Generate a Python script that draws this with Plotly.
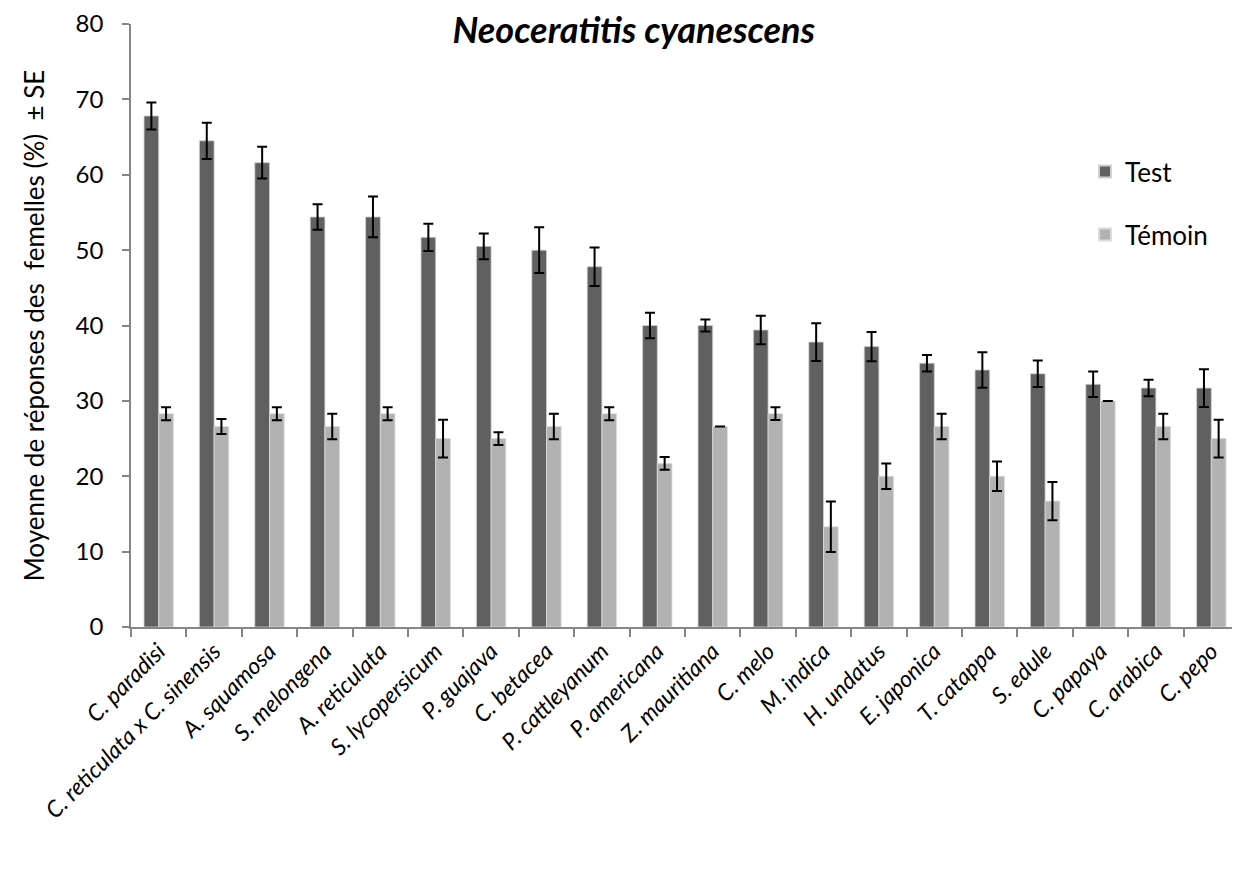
import plotly.graph_objects as go

categories = ["C. paradisi", "C. reticulata x C. sinensis", "A. squamosa", "S. melongena",
              "A. reticulata", "S. lycopersicum", "P. guajava", "C. betacea", "P. cattleyanum",
              "P. americana", "Z. mauritiana", "C. melo", "M. indica", "H. undatus",
              "E. japonica", "T. catappa", "S. edule", "C. papaya", "C. arabica", "C. pepo"]
test_values = [67.8, 64.5, 61.6, 54.4, 54.4, 51.7, 50.5, 50.0, 47.8, 40.0,
               40.0, 39.4, 37.8, 37.2, 35.0, 34.1, 33.6, 32.2, 31.7, 31.7]
test_se = [1.8, 2.4, 2.1, 1.7, 2.7, 1.8, 1.7, 3.05, 2.55, 1.7,
           0.8, 1.9, 2.5, 1.95, 1.1, 2.35, 1.75, 1.7, 1.1, 2.5]
temoin_values = [28.3, 26.6, 28.3, 26.6, 28.3, 25.0, 25.0, 26.6, 28.3, 21.7,
                 26.6, 28.3, 13.3, 20.0, 26.6, 20.0, 16.7, 30.0, 26.6, 25.0]
temoin_se = [0.86, 1.0, 0.86, 1.7, 0.86, 2.5, 0.84, 1.7, 0.86, 0.84,
             0.0, 0.84, 3.35, 1.7, 1.7, 1.95, 2.55, 0.0, 1.7, 2.5]
y_ticks = [0, 10, 20, 30, 40, 50, 60, 70, 80]

FONT = "Lato"

fig = go.Figure()
fig.add_trace(go.Bar(
    x=categories, y=test_values, name="Test", marker_color="#606060",
    marker_line=dict(color="#d0d0d0", width=0.8), legendgroup="a",
    error_y=dict(type="data", array=test_se, color="black", thickness=2, width=5)))
fig.add_trace(go.Bar(
    x=categories, y=temoin_values, name="Témoin", marker_color="#b2b2b2",
    marker_line=dict(color="#dcdcdc", width=0.8), legendgroup="b",
    error_y=dict(type="data", array=temoin_se, color="black", thickness=2, width=5)))

fig.update_layout(
    width=1232, height=864,
    margin=dict(l=123, r=1, t=16, b=245),
    paper_bgcolor="white", plot_bgcolor="white",
    barmode="group", bargap=0.47, bargroupgap=0,
    font=dict(family=FONT, color="black", size=22),
    title=dict(text="<b><i>Neoceratitis cyanescens</i></b>", x=0.508, xanchor="center",
               y=1 - 22 / 864, yanchor="middle", yref="container",
               font=dict(family=FONT, size=36, color="black")),
    legend=dict(x=0.861, y=0.794, xanchor="left", yanchor="top",
                font=dict(family=FONT, size=26), bgcolor="rgba(0,0,0,0)",
                tracegroupgap=26, itemsizing="constant"),
    xaxis=dict(showline=True, linecolor="#868686", linewidth=1.5,
               ticks="outside", tickson="boundaries", ticklen=8, tickcolor="#868686",
               tickwidth=1.5, tickangle=-45,
               tickfont=dict(family=FONT, size=23, style="italic", color="black"),
               showgrid=False),
    yaxis=dict(range=[0, 80], tickvals=y_ticks, showline=True, linecolor="#868686",
               linewidth=1.5, ticks="outside", ticklen=7, tickcolor="#868686", tickwidth=1.5,
               showgrid=False, zeroline=False, ticklabelstandoff=14,
               tickfont=dict(family=FONT, size=24, color="black"),
               title=dict(text="Moyenne de réponses des  femelles (%)  ± SE",
                          font=dict(family=FONT, size=26), standoff=24)),
)

fig.write_html("out.html")
